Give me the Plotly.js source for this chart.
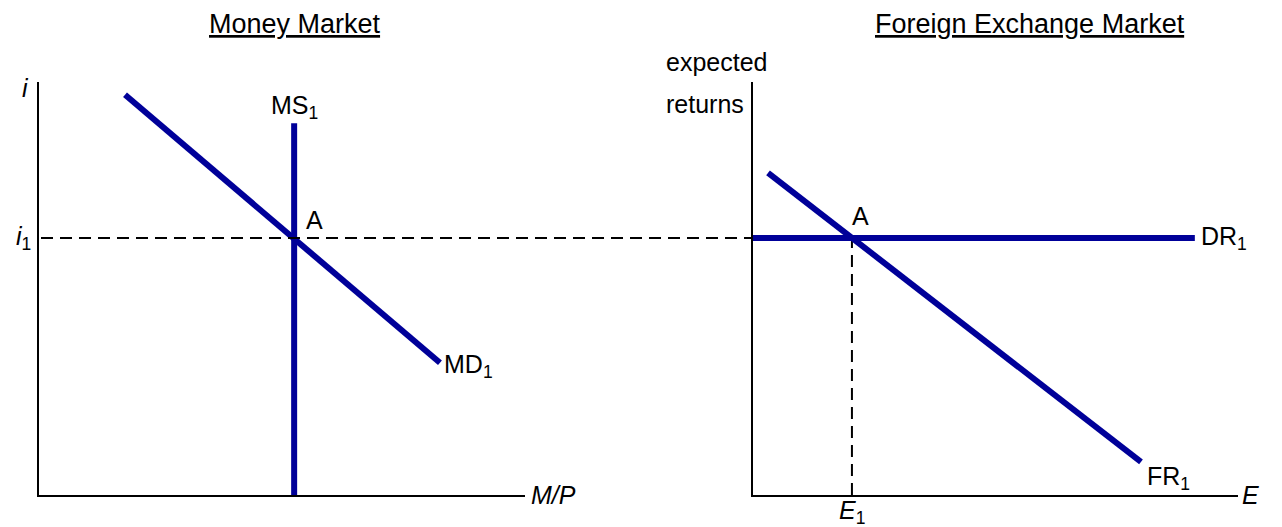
<!DOCTYPE html>
<html>
<head>
<meta charset="utf-8">
<script src="https://cdn.plot.ly/plotly-3.0.1.min.js"></script>
<style>html,body{margin:0;padding:0;background:#fff;}#chart{width:1282px;height:527px;}</style>
</head>
<body>
<div id="chart"></div>
<script>
// Money market
const mdX = [1.77, 8.25];
const mdY = [9.69, 3.2];
const msX = [5.25, 5.25];
const msY = [0, 9.0];
const i1 = 6.22;
// Foreign exchange market
const drX = [0, 9.11];
const drY = [i1, i1];
const frX = [0.31, 8.0];
const frY = [7.8, 0.8];
const e1 = 2.04;

const blue = '#000099';
const FONT = 'Liberation Sans, Arial, sans-serif';

const W = 1282, H = 527;
const px = v => v / W;
const py = v => 1 - v / H;

const yDom = [py(495), py(82)];

const traces = [
  {x: [0, 1], y: [i1, i1], xaxis: 'x3', yaxis: 'y3', mode: 'lines',
   line: {color: '#000', width: 2, dash: '12px,7px'}, hoverinfo: 'skip'},
  {x: [e1, e1], y: [0, i1], xaxis: 'x2', yaxis: 'y2', mode: 'lines',
   line: {color: '#000', width: 2, dash: '12px,7px'}, hoverinfo: 'skip'},
  {x: mdX, y: mdY, xaxis: 'x', yaxis: 'y', mode: 'lines', line: {color: blue, width: 6}},
  {x: msX, y: msY, xaxis: 'x', yaxis: 'y', mode: 'lines', line: {color: blue, width: 6}},
  {x: drX, y: drY, xaxis: 'x2', yaxis: 'y2', mode: 'lines', line: {color: blue, width: 6}},
  {x: frX, y: frY, xaxis: 'x2', yaxis: 'y2', mode: 'lines', line: {color: blue, width: 6}}
];

const axBase = {range: [0, 10], showgrid: false, zeroline: false, showticklabels: false,
  ticks: '', showline: true, linecolor: '#000', linewidth: 2, fixedrange: true};
const hidden = {showgrid: false, zeroline: false, showticklabels: false, ticks: '',
  showline: false, fixedrange: true};

const tf = {family: FONT, size: 25, color: '#000'};
const titleFont = {family: FONT, size: 27, color: '#000'};
const ann = (o) => Object.assign({showarrow: false, font: tf}, o);

const annotations = [
  ann({xref: 'paper', yref: 'paper', x: px(295), y: py(24), xanchor: 'center', yanchor: 'middle', font: titleFont,
       text: '<span style="text-decoration:underline">Money Market</span>'}),
  ann({xref: 'paper', yref: 'paper', x: px(1030), y: py(24), xanchor: 'center', yanchor: 'middle', font: titleFont,
       text: '<span style="text-decoration:underline">Foreign Exchange Market</span>'}),
  ann({xref: 'x', yref: 'y', x: 0, y: 9.85, xanchor: 'right', yanchor: 'middle', xshift: -8, text: '<i>i</i>'}),
  ann({xref: 'x', yref: 'y', x: 0, y: i1, xanchor: 'right', yanchor: 'middle', xshift: -6, text: '<i>i</i><sub>1</sub>'}),
  ann({xref: 'x', yref: 'y', x: msX[1], y: msY[1], xanchor: 'center', yanchor: 'bottom', yshift: -2, text: 'MS<sub>1</sub>'}),
  ann({xref: 'x', yref: 'y', x: msX[0], y: i1, xanchor: 'left', yanchor: 'bottom', xshift: 10, yshift: 2, text: 'A'}),
  ann({xref: 'x', yref: 'y', x: mdX[1], y: mdY[1], xanchor: 'left', yanchor: 'middle', xshift: 2, yshift: -3, text: 'MD<sub>1</sub>'}),
  ann({xref: 'x', yref: 'y', x: 10, y: 0, xanchor: 'left', yanchor: 'middle', xshift: 4, text: '<i>M/P</i>'}),
  ann({xref: 'paper', yref: 'paper', x: px(664), y: py(62), xanchor: 'left', yanchor: 'middle', text: 'expected'}),
  ann({xref: 'paper', yref: 'paper', x: px(664), y: py(104), xanchor: 'left', yanchor: 'middle', text: 'returns'}),
  ann({xref: 'x2', yref: 'y2', x: e1, y: i1, xanchor: 'left', yanchor: 'bottom', xshift: -2, yshift: 6, text: 'A'}),
  ann({xref: 'x2', yref: 'y2', x: drX[1], y: i1, xanchor: 'left', yanchor: 'middle', xshift: 4, text: 'DR<sub>1</sub>'}),
  ann({xref: 'x2', yref: 'y2', x: frX[1], y: frY[1], xanchor: 'left', yanchor: 'middle', xshift: 4, yshift: -16, text: 'FR<sub>1</sub>'}),
  ann({xref: 'x2', yref: 'y2', x: 10, y: 0, xanchor: 'left', yanchor: 'middle', xshift: 2, text: '<i>E</i>'}),
  ann({xref: 'x2', yref: 'y2', x: e1, y: 0, xanchor: 'center', yanchor: 'top', yshift: 1, text: '<i>E</i><sub>1</sub>'})
];

const layout = {
  width: W, height: H,
  margin: {l: 0, r: 0, t: 0, b: 0, pad: 0},
  paper_bgcolor: '#fff', plot_bgcolor: 'rgba(0,0,0,0)',
  showlegend: false,
  font: tf,
  xaxis: Object.assign({}, axBase, {domain: [px(39), px(525)], anchor: 'y'}),
  yaxis: Object.assign({}, axBase, {domain: yDom, anchor: 'x'}),
  xaxis2: Object.assign({}, axBase, {domain: [px(753), px(1238)], anchor: 'y2'}),
  yaxis2: Object.assign({}, axBase, {domain: yDom, anchor: 'x2'}),
  xaxis3: Object.assign({}, hidden, {domain: [px(41), px(753)], range: [0, 1], anchor: 'y3'}),
  yaxis3: Object.assign({}, hidden, {domain: yDom, range: [0, 10], anchor: 'x3'}),
  annotations: annotations
};

Plotly.newPlot('chart', traces, layout, {staticPlot: true, displayModeBar: false});
</script>
</body>
</html>
